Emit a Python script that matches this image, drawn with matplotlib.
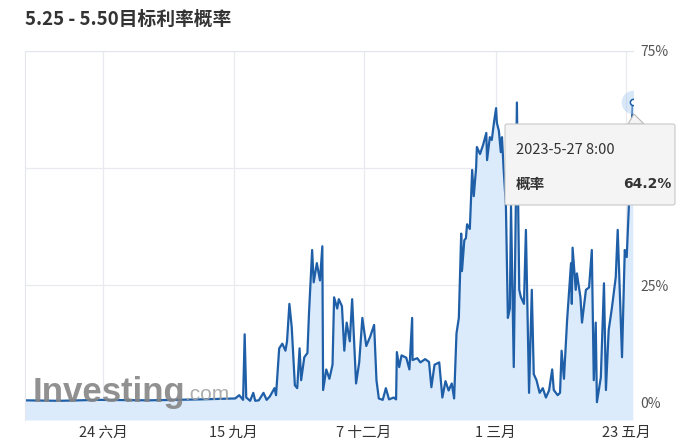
import matplotlib
matplotlib.use("Agg")
import matplotlib.pyplot as plt
from matplotlib.patches import FancyBboxPatch, Polygon
import pandas as pd

plt.rcParams['font.family'] = ['Noto Sans CJK SC', 'DejaVu Sans']

# probability of the 5.25-5.50 target rate (%)
dates = [
    "2022-05-05", "2022-05-27", "2022-06-21", "2022-07-23", "2022-08-24", "2022-09-16",
    "2022-09-18 12:00", "2022-09-21", "2022-09-22", "2022-09-23", "2022-09-25 12:00",
    "2022-09-27 12:00", "2022-09-28 18:00", "2022-10-01", "2022-10-04", "2022-10-06",
    "2022-10-08", "2022-10-11", "2022-10-12", "2022-10-14", "2022-10-16", "2022-10-18",
    "2022-10-19", "2022-10-20 12:00", "2022-10-22", "2022-10-24", "2022-10-25 12:00",
    "2022-10-27", "2022-10-28", "2022-10-30", "2022-11-01", "2022-11-02", "2022-11-04",
    "2022-11-05", "2022-11-07", "2022-11-09", "2022-11-10 12:00", "2022-11-11",
    "2022-11-13", "2022-11-15", "2022-11-17", "2022-11-18", "2022-11-20", "2022-11-21",
    "2022-11-23", "2022-11-24 12:00", "2022-11-26", "2022-11-28", "2022-11-29 12:00",
    "2022-12-02", "2022-12-04", "2022-12-06", "2022-12-08 12:00", "2022-12-11",
    "2022-12-13 12:00", "2022-12-15", "2022-12-16 12:00", "2022-12-19", "2022-12-21",
    "2022-12-23", "2022-12-26", "2022-12-27 12:00", "2022-12-28", "2022-12-29 12:00",
    "2022-12-31", "2023-01-03", "2023-01-05", "2023-01-06 18:00", "2023-01-07",
    "2023-01-10", "2023-01-12", "2023-01-15", "2023-01-17 12:00", "2023-01-19",
    "2023-01-21", "2023-01-24", "2023-01-26", "2023-01-28", "2023-01-30", "2023-02-01",
    "2023-02-02 12:00", "2023-02-04", "2023-02-05 12:00", "2023-02-07", "2023-02-07 12:00",
    "2023-02-09", "2023-02-10", "2023-02-10 18:00", "2023-02-12 12:00", "2023-02-14",
    "2023-02-15", "2023-02-16 12:00", "2023-02-17", "2023-02-19", "2023-02-21",
    "2023-02-23", "2023-02-23 12:00", "2023-02-25 06:00", "2023-02-26 12:00",
    "2023-02-28", "2023-03-01 06:00", "2023-03-01 18:00", "2023-03-03", "2023-03-04 06:00",
    "2023-03-05", "2023-03-06", "2023-03-07 12:00", "2023-03-08 18:00", "2023-03-10",
    "2023-03-10 18:00", "2023-03-12 12:00", "2023-03-13 18:00", "2023-03-14 12:00",
    "2023-03-16", "2023-03-17", "2023-03-19", "2023-03-20 06:00", "2023-03-22 06:00",
    "2023-03-24", "2023-03-25 06:00", "2023-03-27", "2023-03-29", "2023-03-31",
    "2023-04-02", "2023-04-04", "2023-04-06", "2023-04-07", "2023-04-09 12:00",
    "2023-04-11", "2023-04-12", "2023-04-13 12:00", "2023-04-15 12:00", "2023-04-18",
    "2023-04-18 12:00", "2023-04-19", "2023-04-21", "2023-04-21 18:00", "2023-04-24",
    "2023-04-25", "2023-04-27 12:00", "2023-04-29 12:00", "2023-05-01 06:00",
    "2023-05-02 12:00", "2023-05-03 18:00", "2023-05-04 12:00", "2023-05-07",
    "2023-05-09", "2023-05-10 06:00", "2023-05-12", "2023-05-14", "2023-05-16 12:00",
    "2023-05-17 18:00", "2023-05-20 12:00", "2023-05-22 06:00", "2023-05-23 12:00",
    "2023-05-24 18:00", "2023-05-26", "2023-05-27 08:00",
]
probs = [
    0.4, 0.3, 0.5, 0.4, 0.6, 0.8,
    1.5, 0.5, 14.5, 1.0, 0.3,
    2.0, 0.3, 0.4, 2.0, 0.5,
    1.2, 3.0, 1.5, 11.5, 12.5, 11.0,
    13.0, 21.0, 16.0, 3.6, 3.0,
    11.5, 4.7, 9.6, 10.5, 19.0, 32.5,
    25.6, 29.7, 26.0, 33.3, 2.6,
    7.0, 5.0, 8.0, 22.4, 20.0, 22.0,
    20.5, 11.0, 17.0, 13.0, 22.0,
    4.0, 8.5, 18.0, 12.0, 14.0,
    16.5, 4.7, 0.8, 0.5, 3.0,
    0.6, 1.0, 0.6, 10.7, 7.5,
    10.0, 9.5, 7.0, 18.0, 9.0,
    9.4, 8.5, 9.2, 8.6, 3.2,
    8.0, 8.5, 1.0, 4.5, 2.5, 4.0,
    0.8, 14.7, 18.0, 36.0, 28.0,
    34.6, 35.0, 38.0, 37.0, 49.6,
    44.0, 50.0, 54.5, 53.0, 55.0,
    57.5, 51.7, 56.6, 56.0,
    60.0, 62.8, 59.6, 58.0, 53.4,
    56.6, 50.0, 42.0, 18.0, 20.0,
    42.0, 7.5, 40.0, 64.0,
    24.0, 22.5, 21.0, 36.8, 2.0,
    24.0, 6.0, 4.7, 2.0, 3.0,
    1.0, 2.5, 7.0, 2.6, 1.5,
    2.0, 11.0, 5.0, 17.5, 29.7,
    21.0, 33.0, 24.0, 27.5, 22.4,
    17.0, 24.0, 24.5, 32.5,
    4.7, 17.0, 0.0, 5.3,
    25.4, 2.6, 15.4, 20.0, 26.7,
    36.8, 9.6, 32.5, 31.0,
    41.0, 52.0, 64.2,
]
tick_dates = ["2022-06-24", "2022-09-15", "2022-12-07", "2023-03-01", "2023-05-23"]
tick_labels = ["24 六月", "15 九月", "7 十二月", "1 三月", "23 五月"]
y_ticks = [0, 25, 50, 75]
y_labels = ["0%", "25%", "50%", "75%"]

x = pd.to_datetime(dates, format='mixed')
y_bottom = -3.8

fig = plt.figure(figsize=(6.79, 4.44), dpi=100)
ax = fig.add_axes([25 / 679, 1 - 420 / 444, 608 / 679, 369 / 444])

ax.fill_between(x, probs, y_bottom, color='#dcebfb', linewidth=0)
ax.plot(x, probs, color='#1f5fa8', linewidth=1.6)

ax.set_xlim(pd.Timestamp("2022-05-05"), pd.Timestamp("2023-05-27 12:00"))
ax.set_ylim(y_bottom, 75)

ax.set_xticks(pd.to_datetime(tick_dates))
ax.set_xticklabels(tick_labels, fontsize=10.5, color='#333333')
ax.set_yticks(y_ticks)
ax.set_yticklabels(y_labels, fontsize=10, color='#555555')
ax.yaxis.tick_right()
ax.tick_params(axis='both', length=0)
ax.tick_params(axis='x', pad=4)
ax.tick_params(axis='y', pad=5)
ax.grid(True, color='#e8eaef', linewidth=0.9)
ax.set_axisbelow(True)
for side in ['top', 'left']:
    ax.spines[side].set_color('#e3e6ec')
for side in ['right', 'bottom']:
    ax.spines[side].set_visible(False)

# title
fig.text(25 / 679, 1 - 19 / 444, "5.25 - 5.50目标利率概率", fontsize=13.5,
         fontweight='bold', color='#333333', va='center', ha='left')

# watermark
fig.text(33 / 679, 1 - 392 / 444, "Investing", fontsize=25, fontweight='bold',
         color='#858585', alpha=0.9, va='center', ha='left',
         family=['Liberation Sans Narrow', 'Liberation Sans', 'DejaVu Sans'])
fig.text(184 / 679, 1 - 394 / 444, ".com", fontsize=15,
         color='#a5a5a5', alpha=0.9, va='center', ha='left',
         family=['Liberation Sans', 'DejaVu Sans'])

# hovered point marker
last_x = x[-1]
last_y = probs[-1]
ax.plot([last_x], [last_y], 'o', markersize=17, color='#a9cdf0', alpha=0.45,
        markeredgewidth=0, zorder=5)
ax.plot([last_x], [last_y], 'o', markersize=4.5, markerfacecolor='white',
        markeredgecolor='#1f5fa8', markeredgewidth=1.1, zorder=6)

# tooltip
pointer = Polygon([(628 / 679, 1 - 124 / 444), (634 / 679, 1 - 114 / 444),
                   (644 / 679, 1 - 124 / 444)], closed=True,
                  transform=fig.transFigure, facecolor='#f4f4f4',
                  edgecolor='#b8b8b8', linewidth=0.8, zorder=9)
fig.add_artist(pointer)
tip = FancyBboxPatch((505 / 679, 1 - 205 / 444), 170 / 679, 81 / 444,
                     boxstyle="round,pad=0,rounding_size=0.004",
                     transform=fig.transFigure, facecolor='#f4f4f4',
                     edgecolor='#c8c8c8', linewidth=0.8, zorder=10)
fig.add_artist(tip)
fig.text(516 / 679, 1 - 150 / 444, "2023-5-27 8:00", fontsize=10.5,
         color='#333333', va='center', ha='left', zorder=11)
fig.text(516 / 679, 1 - 184 / 444, "概率", fontsize=10.5, fontweight='bold',
         color='#333333', va='center', ha='left', zorder=11)
fig.text(671 / 679, 1 - 184 / 444, "64.2%", fontsize=10, fontweight='bold',
         color='#333333', va='center', ha='right', zorder=11,
         family=['DejaVu Sans'])

fig.savefig("out.png", dpi=100)
